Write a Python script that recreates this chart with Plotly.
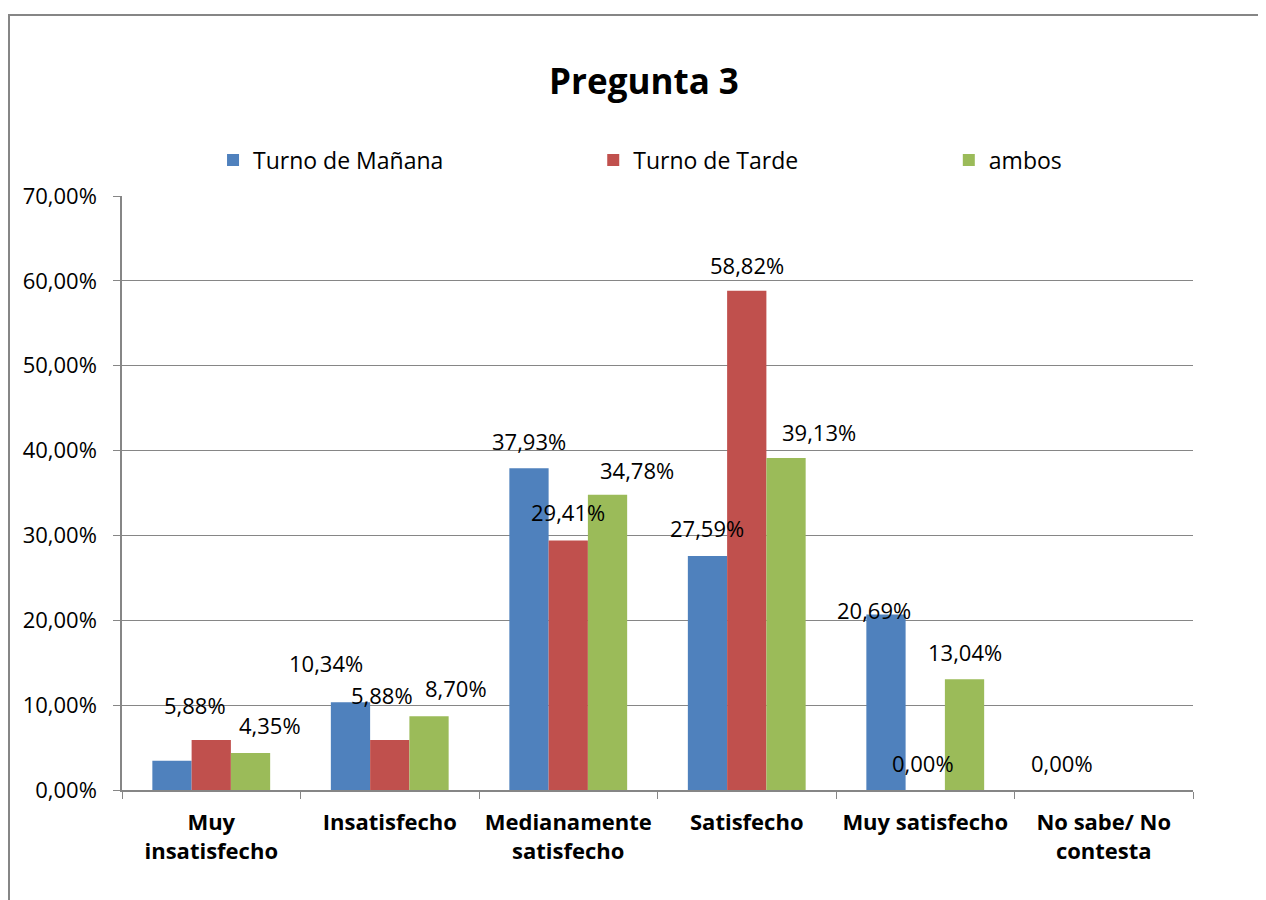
import plotly.graph_objects as go

categories = ["Muy<br>insatisfecho", "Insatisfecho", "Medianamente<br>satisfecho",
              "Satisfecho", "Muy satisfecho", "No sabe/ No<br>contesta"]
series_names = ["Turno de Mañana", "Turno de Tarde", "ambos"]
manana = [3.45, 10.34, 37.93, 27.59, 20.69, 0.00]
tarde = [5.88, 5.88, 29.41, 58.82, 0.00, 0.00]
ambos = [4.35, 8.70, 34.78, 39.13, 13.04, 0.00]
# which data labels are shown in the reference
show_manana = [False, True, True, True, True, True]
show_tarde = [True, True, True, True, True, False]
show_ambos = [True, True, True, True, True, False]

colors = ["#4F81BD", "#C0504D", "#9BBB59"]
# manual label offsets (px) as in reference
dx = [[0, -24, 0, 0, -12, -2], [-16, -8, 0, 0, -2, 0], [19, 27, 29, 33, 0, 0]]
dy = [[27, 39, 27, 28, 4, 27], [35, 45, 28, 26, 27, 27], [28, 28, 25, 26, 27, 27]]
legend_x = [0.085, 0.44, 0.772]

FONT = "Open Sans"
fig = go.Figure()
all_series = [manana, tarde, ambos]
all_show = [show_manana, show_tarde, show_ambos]
legend_ids = ["legend", "legend2", "legend3"]
for name, vals, col, lg in zip(series_names, all_series, colors, legend_ids):
    fig.add_trace(go.Bar(name=name, x=categories, y=vals, marker_color=col,
                         marker_line_width=0, legend=lg))

bargap = 0.34
bw = (1 - bargap) / 3
annotations = []
for j, (vals, show) in enumerate(zip(all_series, all_show)):
    for i, v in enumerate(vals):
        if not show[i]:
            continue
        annotations.append(dict(
            x=i + (j - 1) * bw, y=v, xref="x", yref="y",
            text=f"{v:.2f}".replace(".", ",") + "%", showarrow=False,
            xshift=dx[j][i], yshift=dy[j][i], yanchor="middle",
            font=dict(family=FONT, size=22, color="black")))

def legend_cfg(x):
    return dict(orientation="h", x=x, xanchor="left", y=1.0606, yanchor="middle",
                font=dict(family=FONT, size=23, color="black"),
                bgcolor="rgba(0,0,0,0)")

fig.update_layout(
    width=1266, height=900,
    paper_bgcolor="white", plot_bgcolor="white",
    margin=dict(l=114, r=81, t=188, b=118, autoexpand=False),
    barmode="group", bargap=bargap, bargroupgap=0,
    separators=",.",
    font=dict(family=FONT, size=22, color="black"),
    title=dict(text="<b>Pregunta 3</b>", x=0.5 + 3 / 1266, xanchor="center",
               xref="container",
               y=1 - 74 / 900, yanchor="middle",
               font=dict(family=FONT, size=35, color="black")),
    legend=legend_cfg(legend_x[0]),
    legend2=legend_cfg(legend_x[1]),
    legend3=legend_cfg(legend_x[2]),
    annotations=annotations,
    shapes=[dict(type="rect", xref="paper", yref="paper",
                 x0=(9 - 122) / 1071, x1=1.2, y0=-0.5, y1=(790 - 15) / 594,
                 line=dict(color="#868686", width=2), layer="below")],
    showlegend=True,
)
fig.update_yaxes(range=[0, 70], dtick=10, tickformat=".2f", ticksuffix="%",
                 showgrid=True, gridcolor="#868686", gridwidth=1,
                 showline=True, linecolor="#868686", linewidth=1.5,
                 ticks="outside", ticklen=7, tickcolor="#868686",
                 ticklabelstandoff=12,
                 tickfont=dict(family=FONT, size=22, color="black"),
                 zeroline=False, fixedrange=True)
fig.update_xaxes(showline=True, linecolor="#868686", linewidth=1.5,
                 ticks="outside", ticklen=7, tickcolor="#868686",
                 tickson="boundaries", showgrid=False,
                 ticklabelstandoff=12,
                 tickfont=dict(family=FONT, size=22, color="black"),
                 tickangle=0)
fig.update_xaxes(ticktext=["<b>" + c + "</b>" for c in categories],
                 tickvals=categories)
fig.write_html("out.html")
